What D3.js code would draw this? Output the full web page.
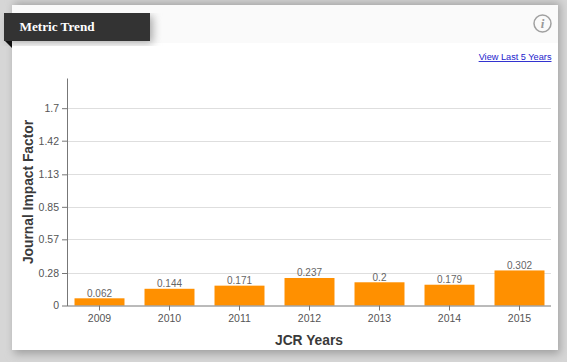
<!DOCTYPE html>
<html lang="en">
<head>
<meta charset="UTF-8">
<title>Metric Trend</title>
<script src="https://d3js.org/d3.v7.min.js"></script>
<style>
    html, body { margin: 0; padding: 0; background: #d6d6d6; overflow: hidden; }
    text { font-family: "Liberation Sans", Arial, sans-serif; }
    .tick text { font-size: 10.5px; fill: #555; }
    .grid line { stroke: #dedede; stroke-width: 1; }
    .axis-title { font-size: 13.8px; font-weight: bold; fill: #3a3a3a; }
    .val { font-size: 10px; fill: #666; text-anchor: middle; }
</style>
</head>
<body>
<svg id="chart" width="567" height="362"></svg>
<script>
    var years = ["2009", "2010", "2011", "2012", "2013", "2014", "2015"];
    var impact = [0.062, 0.144, 0.171, 0.237, 0.2, 0.179, 0.302];
    var yTicks = [0, 0.28, 0.57, 0.85, 1.13, 1.42, 1.7];

    var svg = d3.select("#chart");

    var defs = svg.append("defs");
    var blur = defs.append("filter").attr("id", "shadow")
        .attr("x", "-10%").attr("y", "-10%").attr("width", "120%").attr("height", "120%");
    blur.append("feGaussianBlur").attr("stdDeviation", 4);

    // card and its shadow
    svg.append("rect").attr("x", 14).attr("y", 3).attr("width", 546).attr("height", 351)
        .attr("fill", "#a0a0a0").attr("filter", "url(#shadow)");
    svg.append("rect").attr("x", 12).attr("y", 5).attr("width", 546).attr("height", 345).attr("fill", "#fff");
    svg.append("rect").attr("x", 12).attr("y", 5).attr("width", 546).attr("height", 38).attr("fill", "#fafafa");

    // title ribbon
    svg.append("rect").attr("x", 7).attr("y", 16).attr("width", 146).attr("height", 27)
        .attr("fill", "#aaa").attr("filter", "url(#shadow)");
    svg.append("rect").attr("x", 4).attr("y", 13).attr("width", 146).attr("height", 28).attr("fill", "#333");
    svg.append("path").attr("d", "M5,41H12V48Z").attr("fill", "#111");
    svg.append("text").attr("x", 19.5).attr("y", 31)
        .attr("fill", "#fff")
        .style("font-family", "'Liberation Serif', serif")
        .style("font-size", "13.2px").style("font-weight", "bold")
        .text("Metric Trend");

    // info icon
    svg.append("circle").attr("cx", 542.5).attr("cy", 23.5).attr("r", 8.5)
        .attr("fill", "none").attr("stroke", "#a0a0a0").attr("stroke-width", 1.5);
    svg.append("text").attr("x", 542.5).attr("y", 28).attr("text-anchor", "middle")
        .attr("fill", "#999")
        .style("font-family", "'Liberation Serif', serif")
        .style("font-size", "13px").style("font-style", "italic").style("font-weight", "bold")
        .text("i");

    svg.append("text").attr("x", 551.5).attr("y", 60).attr("text-anchor", "end")
        .attr("fill", "#2222cc").attr("text-decoration", "underline")
        .style("font-size", "9.2px")
        .text("View Last 5 Years");

    var x = d3.scaleBand().domain(years).range([64.5, 554.5]).paddingInner(0.286).paddingOuter(0.143);
    var y = d3.scaleLinear().domain([0, 1.96]).range([305.5, 78]);

    // grid lines
    svg.append("g").attr("class", "grid")
        .selectAll("line").data(yTicks.slice(1)).enter().append("line")
        .attr("x1", 67).attr("x2", 551)
        .attr("y1", d => Math.round(y(d)) + 0.5).attr("y2", d => Math.round(y(d)) + 0.5);

    // bars
    svg.append("g").selectAll("rect").data(impact).enter().append("rect")
        .attr("x", (d, i) => x(years[i]))
        .attr("y", d => y(d))
        .attr("width", x.bandwidth())
        .attr("height", d => y(0) - y(d))
        .attr("fill", "#ff9000");

    svg.append("g").selectAll("text").data(impact).enter().append("text")
        .attr("class", "val")
        .attr("x", (d, i) => x(years[i]) + x.bandwidth() / 2)
        .attr("y", d => y(d) - 1.5)
        .text(d => d);

    // axes
    var yAxis = d3.axisLeft(y).tickValues(yTicks).tickFormat(d => d).tickSize(5).tickSizeOuter(0);
    var yG = svg.append("g").attr("transform", "translate(67,0)").call(yAxis);
    var xAxis = d3.axisBottom(x).tickSize(5).tickSizeOuter(0);
    var xG = svg.append("g").attr("transform", "translate(0,305.5)").call(xAxis);
    xG.select(".domain").attr("d", "M67,0.5H551");
    yG.selectAll(".domain,.tick line").attr("stroke", "#777");
    xG.selectAll(".domain,.tick line").attr("stroke", "#777");
    xG.selectAll(".tick text").attr("dy", "0.85em");

    svg.append("text").attr("class", "axis-title").attr("text-anchor", "middle")
        .attr("x", 309).attr("y", 345).text("JCR Years");
    svg.append("text").attr("class", "axis-title").attr("text-anchor", "middle")
        .attr("transform", "translate(33,192) rotate(-90)").text("Journal Impact Factor");
</script>
</body>
</html>
